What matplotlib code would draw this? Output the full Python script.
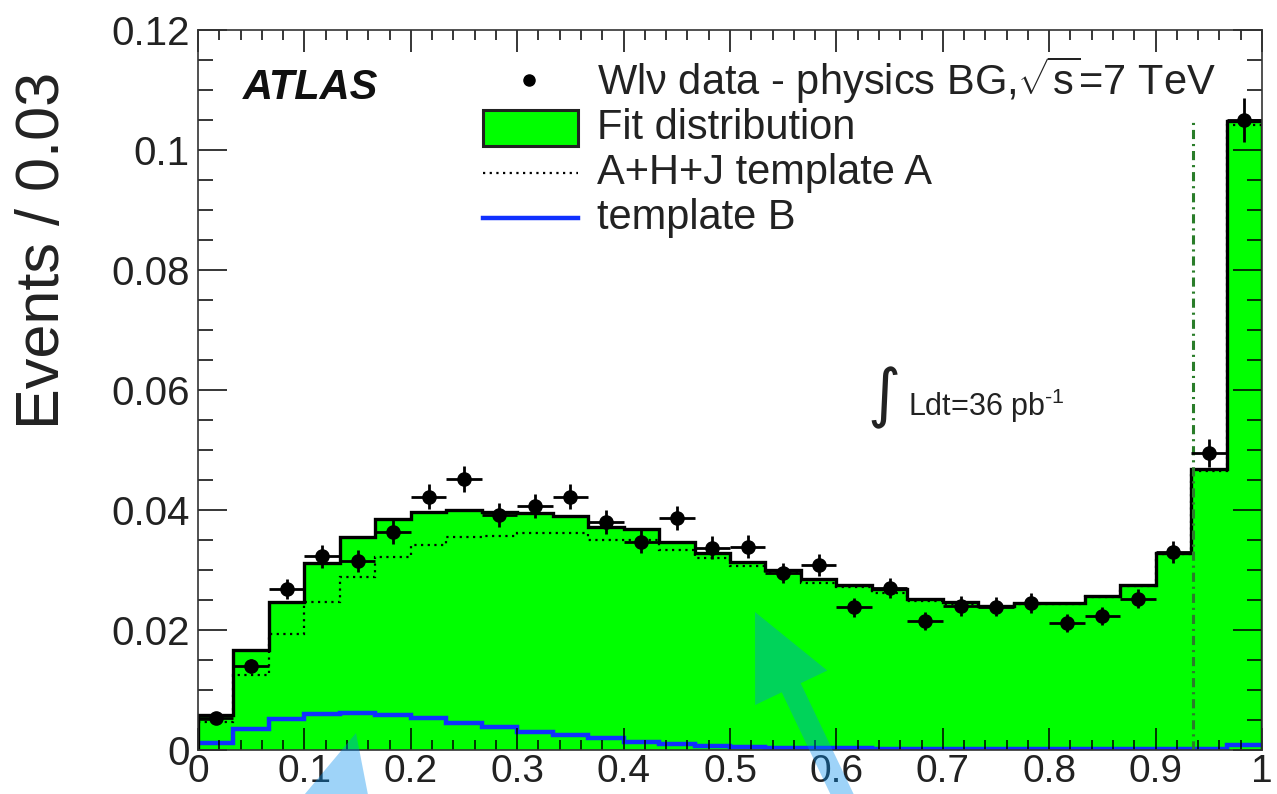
import numpy as np
import matplotlib
matplotlib.use("Agg")
import matplotlib.pyplot as plt
from matplotlib.patches import FancyArrow, Rectangle
from matplotlib.lines import Line2D
from matplotlib.ticker import MultipleLocator, FuncFormatter
from matplotlib.transforms import Affine2D

plt.rcParams["font.family"] = ["Liberation Sans", "DejaVu Sans"]
plt.rcParams["mathtext.fontset"] = "custom"
plt.rcParams["mathtext.rm"] = "Liberation Sans"
plt.rcParams["mathtext.it"] = "Liberation Sans:italic"
plt.rcParams["mathtext.bf"] = "Liberation Sans:bold"

# ---- binned distributions (30 bins on [0, 1]) ----
bin_edges = np.linspace(0.0, 1.0, 31)

fit_distribution = [0.0058, 0.0167, 0.0247, 0.0311, 0.0355, 0.0385, 0.0397, 0.0400,
                    0.0397, 0.0395, 0.0390, 0.0372, 0.0368, 0.0347, 0.0328, 0.0314,
                    0.0300, 0.0285, 0.0275, 0.0268, 0.0252, 0.0246, 0.0240, 0.0245,
                    0.0245, 0.0257, 0.0275, 0.0329, 0.0468, 0.1049]

template_a = [0.0046, 0.0125, 0.0193, 0.0247, 0.0288, 0.0322, 0.0342, 0.0355,
              0.0357, 0.0362, 0.0362, 0.0350, 0.0350, 0.0333, 0.0320, 0.0307,
              0.0295, 0.0278, 0.0271, 0.0262, 0.0249, 0.0244, 0.0238, 0.0243,
              0.0243, 0.0255, 0.0273, 0.0327, 0.0465, 0.1041]

template_b = [0.0012, 0.0035, 0.0052, 0.0060, 0.0062, 0.0058, 0.0053, 0.0045,
              0.0038, 0.0030, 0.0025, 0.0020, 0.0013, 0.0010, 0.0007, 0.0005,
              0.0004, 0.0003, 0.0003, 0.0002, 0.0002, 0.0002, 0.0002, 0.0002,
              0.0002, 0.0002, 0.0002, 0.0002, 0.0002, 0.0008]

data_values = [0.0053, 0.0140, 0.0268, 0.0323, 0.0315, 0.0363, 0.0422, 0.0452,
               0.0392, 0.0407, 0.0422, 0.0380, 0.0347, 0.0387, 0.0337, 0.0339,
               0.0295, 0.0308, 0.0238, 0.0270, 0.0215, 0.0240, 0.0239, 0.0245,
               0.0211, 0.0224, 0.0252, 0.0330, 0.0495, 0.1050]

data_errors = [0.0008, 0.0012, 0.0017, 0.0019, 0.0018, 0.0020, 0.0021, 0.0022,
               0.0020, 0.0020, 0.0021, 0.0020, 0.0019, 0.0020, 0.0019, 0.0019,
               0.0017, 0.0018, 0.0016, 0.0017, 0.0015, 0.0016, 0.0016, 0.0016,
               0.0015, 0.0015, 0.0016, 0.0019, 0.0023, 0.0036]

cut_position = 0.935
cut_top = 0.105

x_tick_labels = ["0", "0.1", "0.2", "0.3", "0.4", "0.5", "0.6", "0.7", "0.8", "0.9", "1"]
y_tick_labels = ["0", "0.02", "0.04", "0.06", "0.08", "0.1", "0.12"]

# ---- figure layout (pixel based) ----
W, H = 1277, 794
DPI = 100
AX_L, AX_R, AX_T, AX_B = 198, 1262, 30, 750

fig = plt.figure(figsize=(W / DPI, H / DPI), dpi=DPI)
ax = fig.add_axes([AX_L / W, (H - AX_B) / H, (AX_R - AX_L) / W, (AX_B - AX_T) / H])


def axfrac(px, py):
    """Image pixel position -> axes fraction."""
    return (px - AX_L) / (AX_R - AX_L), (AX_B - py) / (AX_B - AX_T)


GREEN = "#00ff00"
BLUE = "#1030ff"
TEXT = "#222222"

edges = bin_edges
centers = 0.5 * (edges[:-1] + edges[1:])
half_w = 0.5 * (edges[1] - edges[0])

ax.stairs(fit_distribution, edges, fill=True, color=GREEN, zorder=1)
ax.stairs(template_b, edges, color=BLUE, lw=3.2, zorder=1.5, baseline=None)
ax.stairs(template_a, edges, color="black", lw=1.6, ls=(0, (1, 2)), zorder=1.6, baseline=None)
ax.stairs(fit_distribution, edges, color="black", lw=2.4, zorder=1.7)
ax.plot([cut_position, cut_position], [0, cut_top], color="#2a7d2a", lw=2.2,
        ls=(0, (3, 1.6, 0.7, 1.6)), zorder=1.8)
ax.errorbar(centers, data_values, yerr=data_errors, xerr=half_w, fmt="o", color="black",
            ms=9.5, elinewidth=2.0, capsize=0, zorder=3)

ax.set_xlim(0, 1)
ax.set_ylim(0, 0.12)

ax.xaxis.set_major_locator(MultipleLocator(0.1))
ax.xaxis.set_minor_locator(MultipleLocator(0.02))
ax.yaxis.set_major_locator(MultipleLocator(0.02))
ax.yaxis.set_minor_locator(MultipleLocator(0.005))
ax.xaxis.set_major_formatter(FuncFormatter(lambda v, p: x_tick_labels[int(round(v * 10))]
                                           if 0 <= int(round(v * 10)) < len(x_tick_labels) else ""))
ax.yaxis.set_major_formatter(FuncFormatter(lambda v, p: y_tick_labels[int(round(v / 0.02))]
                                           if 0 <= int(round(v / 0.02)) < len(y_tick_labels) else ""))

ax.tick_params(axis="both", which="both", direction="in", top=True, right=True,
               colors="black", width=1.1)
ax.tick_params(axis="x", which="major", length=16, pad=3, labelsize=28)
ax.tick_params(axis="x", which="minor", length=7.5)
ax.tick_params(axis="y", which="major", length=21, pad=6, labelsize=29)
ax.tick_params(axis="y", which="minor", length=10.5)
for lab in ax.get_xticklabels() + ax.get_yticklabels():
    lab.set_color(TEXT)
ax.set_axisbelow(False)
for sp in ax.spines.values():
    sp.set_linewidth(1.2)
    sp.set_color("#333333")
    sp.set_zorder(4)

ax.set_ylabel("Events / 0.03", fontsize=44, color=TEXT)
ax.yaxis.set_label_coords(*axfrac(72, 250))

# ---- ATLAS label and luminosity ----
ax.text(*axfrac(243, 88), "ATLAS", transform=ax.transAxes, fontsize=30, fontweight="bold",
        fontstyle="italic", ha="left", va="center", color="#111111")
ax.text(*axfrac(884, 398), "\u222b", transform=ax.transAxes, fontsize=46, ha="center",
        va="center", family=["DejaVu Sans"], color=TEXT)
ax.text(*axfrac(908, 406), r"Ldt=36 pb$^{\mathregular{\text{-}1}}$", transform=ax.transAxes,
        fontsize=22, ha="left", va="center", color=TEXT)

# ---- legend ----
LEG_TXT_X = 597
rows_y = [80, 128, 173, 218]
legend_texts = [r"Wl$\mathregular{\nu}$ data - physics BG,$\mathregular{\sqrt{s}}$=7 TeV",
                "Fit distribution", "A+H+J template A", "template B"]
for ty, txt in zip(rows_y, legend_texts):
    ax.text(*axfrac(LEG_TXT_X, ty), txt, transform=ax.transAxes, fontsize=30,
            ha="left", va="center", color=TEXT)

ax.add_line(Line2D([axfrac(529, 0)[0]], [axfrac(0, rows_y[0])[1]], marker="o", ms=8,
                   color="black", transform=ax.transAxes, clip_on=False))
bx0, by0 = axfrac(483, 146)
bx1, by1 = axfrac(578, 110)
ax.add_patch(Rectangle((bx0, by0), bx1 - bx0, by1 - by0, transform=ax.transAxes,
                       facecolor=GREEN, edgecolor=TEXT, lw=2.2, zorder=5))
lx0 = axfrac(483, 0)[0]
lx1 = axfrac(578, 0)[0]
ax.add_line(Line2D([lx0, lx1], [axfrac(0, rows_y[2])[1]] * 2, color="black", lw=1.6,
                   ls=(0, (1, 2)), transform=ax.transAxes))
ax.add_line(Line2D([lx0, lx1], [axfrac(0, rows_y[3])[1]] * 2, color=BLUE, lw=3.2,
                   transform=ax.transAxes))

# ---- highlight arrows (pixel units, y measured upwards) ----
pix = Affine2D().scale(1.0 / DPI) + fig.dpi_scale_trans


def arrow_to(tip_x, tip_y, dir_x, dir_y, length):
    n = np.hypot(dir_x, dir_y)
    ux, uy = dir_x / n, dir_y / n
    tail_x, tail_y = tip_x + ux * length, tip_y + uy * length
    return FancyArrow(tail_x, H - tail_y, tip_x - tail_x, -(tip_y - tail_y),
                      width=21, head_width=80, head_length=84,
                      length_includes_head=True, transform=pix,
                      facecolor=(0.0, 0.55, 0.93), edgecolor="none", alpha=0.38,
                      zorder=10, clip_on=False)


fig.add_artist(arrow_to(356, 733, -0.25, 0.968, 260))
fig.add_artist(arrow_to(755, 612, 0.43, 0.90, 260))

fig.savefig("out.png", dpi=DPI)
